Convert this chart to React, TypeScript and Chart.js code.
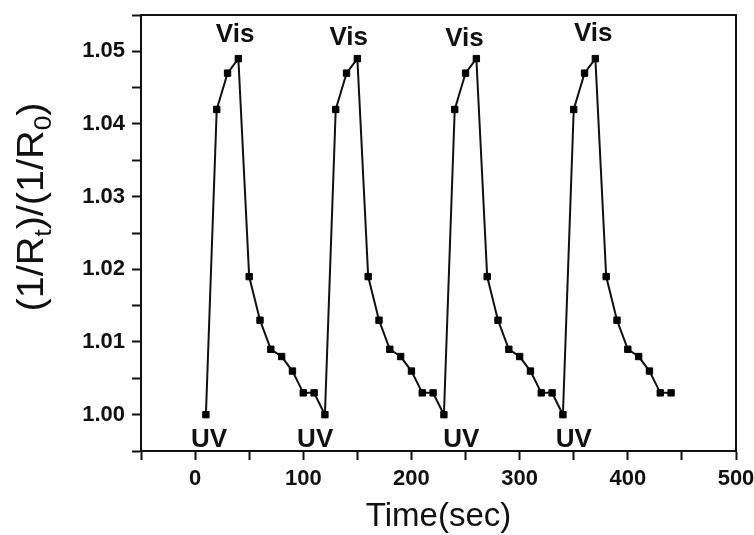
import React, { useEffect, useRef } from "react";
import { Chart, registerables } from "chart.js";

Chart.register(...registerables);

// ---- Data ----
const timeSec = [
  10, 20, 30, 40, 50, 60, 70, 80, 90, 100, 110,
  120, 130, 140, 150, 160, 170, 180, 190, 200, 210, 220,
  230, 240, 250, 260, 270, 280, 290, 300, 310, 320, 330,
  340, 350, 360, 370, 380, 390, 400, 410, 420, 430, 440,
];
const ratio = [
  1.0, 1.042, 1.047, 1.049, 1.019, 1.013, 1.009, 1.008, 1.006, 1.003, 1.003,
  1.0, 1.042, 1.047, 1.049, 1.019, 1.013, 1.009, 1.008, 1.006, 1.003, 1.003,
  1.0, 1.042, 1.047, 1.049, 1.019, 1.013, 1.009, 1.008, 1.006, 1.003, 1.003,
  1.0, 1.042, 1.047, 1.049, 1.019, 1.013, 1.009, 1.008, 1.006, 1.003, 1.003,
];

const xTickLabels = ["0", "100", "200", "300", "400", "500"];
const yTickLabels = ["1.00", "1.01", "1.02", "1.03", "1.04", "1.05"];

// annotation labels (data units)
const visLabel = "Vis";
const visTimes = [37, 142, 249, 368];
const visLevels = [1.0513, 1.0509, 1.0508, 1.0514];
const uvLabel = "UV";
const uvTimes = [13, 111, 246, 350];
const uvLevels = [0.9955, 0.9955, 0.9955, 0.9955];

const xTitle = "Time(sec)";

const FONT = "'Liberation Sans', Arial, Helvetica, sans-serif";

const annotationPlugin = {
  id: "annot",
  afterDatasetsDraw(chart: any) {
    const { ctx, scales, chartArea } = chart;
    const xs = scales.x;
    const ys = scales.y;
    ctx.save();
    // frame top/right
    ctx.strokeStyle = "#111";
    ctx.lineWidth = 2;
    ctx.beginPath();
    ctx.moveTo(chartArea.left, chartArea.top);
    ctx.lineTo(chartArea.right, chartArea.top);
    ctx.lineTo(chartArea.right, chartArea.bottom);
    ctx.stroke();

    ctx.fillStyle = "#111";
    ctx.font = `bold 26px ${FONT}`;
    ctx.textAlign = "center";
    ctx.textBaseline = "alphabetic";
    visTimes.forEach((t, i) => {
      ctx.fillText(visLabel, xs.getPixelForValue(t), ys.getPixelForValue(visLevels[i]));
    });
    uvTimes.forEach((t, i) => {
      ctx.fillText(uvLabel, xs.getPixelForValue(t), ys.getPixelForValue(uvLevels[i]));
    });
    ctx.restore();
  },
  afterDraw(chart: any) {
    // y-axis title with subscripts
    const { ctx, chartArea } = chart;
    const parts: [string, boolean][] = [
      ["(1/R", false],
      ["t", true],
      [")/(1/R", false],
      ["0", true],
      [")", false],
    ];
    const mainFont = `36px ${FONT}`;
    const subFont = `24px ${FONT}`;
    ctx.save();
    let total = 0;
    parts.forEach(([s, sub]) => {
      ctx.font = sub ? subFont : mainFont;
      total += ctx.measureText(s).width;
    });
    const stretch = 1.1;
    const cx = 43;
    const cy = (chartArea.top + chartArea.bottom) / 2 - 26;
    ctx.translate(cx, cy);
    ctx.rotate(-Math.PI / 2);
    ctx.scale(stretch, 1);
    ctx.fillStyle = "#111";
    ctx.textBaseline = "alphabetic";
    ctx.textAlign = "left";
    let u = -total / 2;
    parts.forEach(([s, sub]) => {
      ctx.font = sub ? subFont : mainFont;
      ctx.fillText(s, u, sub ? 8 : 0);
      u += ctx.measureText(s).width;
    });
    ctx.restore();
  },
};

const zeroPad = (s: any) => {
  s.paddingTop = 0;
  s.paddingBottom = 0;
  s.paddingLeft = 0;
  s.paddingRight = 0;
};

export default function App() {
  const ref = useRef<HTMLCanvasElement | null>(null);

  useEffect(() => {
    if (!ref.current) return;
    const points = timeSec.map((t, i) => ({ x: t, y: ratio[i] }));
    const chart = new Chart(ref.current, {
      type: "scatter",
      data: {
        datasets: [
          {
            data: points,
            showLine: true,
            borderColor: "#111",
            borderWidth: 2,
            pointStyle: "rect",
            pointRadius: 4.5,
            pointBackgroundColor: "#000",
            pointBorderColor: "#000",
            pointBorderWidth: 1,
            tension: 0,
          },
        ],
      },
      options: {
        animation: false,
        responsive: false,
        devicePixelRatio: 1,
        layout: { padding: { top: 15, right: 18, left: 0, bottom: 0 } },
        plugins: {
          legend: { display: false },
          tooltip: { enabled: false },
        },
        scales: {
          x: {
            type: "linear",
            min: -50,
            max: 500,
            afterFit: (s: any) => {
              s.height = 84;
              zeroPad(s);
            },
            grid: {
              drawOnChartArea: false,
              drawTicks: true,
              tickLength: 9,
              tickWidth: 2,
              tickColor: "#111",
            },
            border: { display: true, color: "#111", width: 2 },
            ticks: {
              stepSize: 50,
              autoSkip: false,
              maxRotation: 0,
              minRotation: 0,
              padding: 6,
              color: "#111",
              font: { family: FONT, size: 22, weight: "bold" },
              callback: (v: any) => {
                const s = String(Math.round(Number(v)));
                return xTickLabels.includes(s) ? s : "";
              },
            },
            title: {
              display: true,
              text: xTitle,
              color: "#111",
              font: { family: FONT, size: 33, weight: "normal", lineHeight: 1 },
              padding: { top: 0, bottom: 2 },
            },
          },
          y: {
            type: "linear",
            min: 0.995,
            max: 1.055,
            afterFit: (s: any) => {
              s.width = 141;
              zeroPad(s);
            },
            grid: {
              drawOnChartArea: false,
              drawTicks: true,
              tickLength: 9,
              tickWidth: 2,
              tickColor: "#111",
            },
            border: { display: true, color: "#111", width: 2 },
            ticks: {
              stepSize: 0.005,
              autoSkip: false,
              padding: 7,
              color: "#111",
              font: { family: FONT, size: 22, weight: "bold" },
              callback: (v: any) => {
                const s = Number(v).toFixed(3);
                const lab = Number(v).toFixed(2);
                return s.endsWith("0") && yTickLabels.includes(lab) ? lab : "";
              },
            },
          },
        },
      },
      plugins: [annotationPlugin],
    });
    return () => chart.destroy();
  }, []);

  return (
    <div
      style={{
        position: "fixed",
        left: 0,
        top: 0,
        width: 754,
        height: 535,
        background: "#fff",
      }}
    >
      <canvas ref={ref} width={754} height={535} />
    </div>
  );
}
